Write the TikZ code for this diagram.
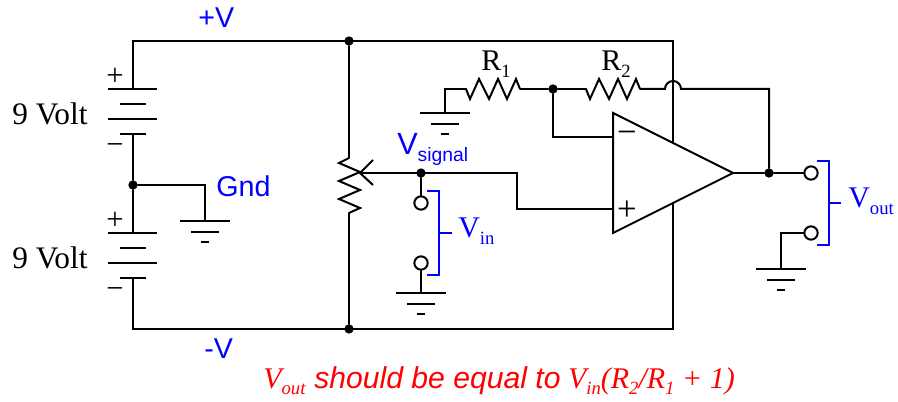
\documentclass[tikz,border=0pt]{standalone}
\usepackage{fontspec}
\setmainfont{Liberation Serif}
\setsansfont{Liberation Sans}
\definecolor{lblblue}{RGB}{0,0,255}
\definecolor{lblred}{RGB}{255,0,0}
\newcommand{\rsub}[1]{\raisebox{-.22em}{\fontsize{14pt}{14pt}\selectfont #1}}
\tikzset{
  x=0.75pt,y=-0.75pt,
  wire/.style={line width=1.5pt,line cap=round,line join=miter,black},
  brk/.style={line width=1.5pt,lblblue,line join=miter},
  dotn/.style={circle,fill=black,inner sep=0pt,minimum size=7pt},
  term/.style={circle,draw=black,fill=white,line width=1.5pt,inner sep=0pt,minimum size=10pt},
  serif/.style={anchor=base west,inner sep=0pt,font=\fontsize{23.5pt}{23.5pt}\selectfont},
  sans/.style={anchor=base west,inner sep=0pt,font=\sffamily\fontsize{21.5pt}{21.5pt}\selectfont,lblblue},
  sign/.style={anchor=center,inner sep=0pt,font=\fontsize{23pt}{23pt}\selectfont},
  bigsign/.style={anchor=center,inner sep=0pt,font=\fontsize{26pt}{26pt}\selectfont},
}
\begin{document}
\begin{tikzpicture}
\useasboundingbox (0,0) rectangle (898,402);
% named points
\coordinate (tl) at (133,41); \coordinate (bl) at (133,329);
\coordinate (tr) at (673,41); \coordinate (br) at (673,329);
\coordinate (g1) at (205,185); \coordinate (g1p) at (205,221);
\coordinate (g2) at (421,293); \coordinate (g3t) at (445,89); \coordinate (g3p) at (445,113);
\coordinate (g4) at (781,233); \coordinate (g4p) at (781,269);
\coordinate (w1) at (517,173); \coordinate (w2) at (517,209);
\coordinate (ninv) at (613,137); \coordinate (pinv) at (613,209);
\coordinate (fb1) at (553,137); \coordinate (fb2) at (769,89);
\coordinate (oa1) at (613,113); \coordinate (oa2) at (613,233); \coordinate (oa3) at (733,173);
\coordinate (hopL) at (665,89); \coordinate (hopR) at (681,89);
\coordinate (pt) at (349,158); \coordinate (pb) at (349,213); \coordinate (ptip) at (360,173);
\coordinate (xu) at (673,143); \coordinate (xd) at (673,203);
\coordinate (b1t) at (133,89); \coordinate (b1b) at (133,134);
\coordinate (b2t) at (133,233); \coordinate (b2b) at (133,278);
\coordinate (r1a) at (466,89); \coordinate (r1b) at (520,89);
\coordinate (r2a) at (586,89); \coordinate (r2b) at (640,89);
% junctions and terminals
\node[dotn] (jmid) at (133,185) {};
\node[dotn] (jtop) at (349,41) {};
\node[dotn] (jbot) at (349,329) {};
\node[dotn] (jsig) at (421,173) {};
\node[dotn] (jr) at (553,89) {};
\node[dotn] (jout) at (769,173) {};
% wires
\draw[wire] (b1t) -- (tl) -- (tr) -- (xu);
\draw[wire] (xd) -- (br) -- (bl) -- (b2b);
\draw[wire] (b1b) -- (jmid) -- (b2t);
\draw[wire] (jmid) -- (g1) -- (g1p);
\draw[wire] (jtop) -- (pt);
\draw[wire] (pb) -- (jbot);
\draw[wire] (ptip) -- (w1) -- (w2) -- (pinv);
\draw[wire] (jr) -- (fb1) -- (ninv);
\draw[wire] (r1b) -- (jr) -- (r2a);
\draw[wire] (g3p) -- (g3t) -- (r1a);
\draw[wire] (r2b) -- (hopL) arc[start angle=180,end angle=360,radius=8] -- (fb2) -- (jout);
\draw[wire] (oa3) -- (jout);
% batteries
\foreach \y in {89,119,233,263} \draw[wire,line cap=butt] (108,\y) -- (157,\y);
\foreach \y in {104,134,248,278} \draw[wire,line cap=butt] (120,\y) -- (146,\y);
% grounds
\foreach \x/\y in {205/221,421/293,445/113,781/269}{
  \draw[wire,line cap=butt] (\x-25,\y) -- (\x+25,\y);
  \draw[wire,line cap=butt] (\x-14,\y+11) -- (\x+14,\y+11);
  \draw[wire,line cap=butt] (\x-4,\y+21) -- (\x+4,\y+21);
}
% resistors
\draw[wire,line cap=butt] (pt) -- (339,163) -- (360,172) -- (339,181) -- (360,190) -- (339,199) -- (360,208) -- (pb);
\draw[wire,line cap=butt] (r1a) -- (470,99) -- (479,79) -- (489,99) -- (498,79) -- (507,99) -- (516,79) -- (r1b);
\draw[wire,line cap=butt] (r2a) -- (590,99) -- (599,79) -- (609,99) -- (618,79) -- (627,99) -- (636,79) -- (r2b);
% wiper head
\draw[wire,line cap=butt] (373,160) -- (ptip) -- (373,185);
% op-amp
\draw[wire,line join=miter,fill=none] (oa1) -- (oa2) -- (oa3) -- cycle;
\node[bigsign] (minus) at (627,137) {−};
\node[bigsign] (plus) at (627,211) {+};
% terminals
\node[term] (t1) at (421,203) {};
\node[term] (t2) at (421,263) {};
\node[term] (t3) at (811,173) {};
\node[term] (t4) at (811,233) {};
\draw[wire] (jsig) -- (t1);
\draw[wire] (t2) -- (g2);
\draw[wire] (jout) -- (t3);
\draw[wire] (t4) -- (g4) -- (g4p);
% brackets
\coordinate (b1a) at (427,191); \coordinate (b1c) at (439,191); \coordinate (b1d) at (439,275); \coordinate (b1e) at (427,275);
\coordinate (b1m) at (439,233); \coordinate (b1n) at (452,233);
\draw[brk] (b1a) -- (b1c) -- (b1d) -- (b1e);
\draw[brk] (b1m) -- (b1n);
\coordinate (b2a) at (817,161); \coordinate (b2c) at (829,161); \coordinate (b2d) at (829,245); \coordinate (b2e) at (817,245);
\coordinate (b2m) at (829,203); \coordinate (b2n) at (841,203);
\draw[brk] (b2a) -- (b2c) -- (b2d) -- (b2e);
\draw[brk] (b2m) -- (b2n);
% labels
\node[sans] (lp) at (198,28) {+V};
\node[sans] (lm) at (204,358) {-V};
\node[sans] (lg) at (216,197) {Gnd};
\node[sans,font=\sffamily\fontsize{23pt}{23pt}\selectfont] (ls) at (397,155) {V\raisebox{-.2em}{\fontsize{14.5pt}{14.5pt}\selectfont signal}};
\node[serif] (v1) at (12,125) {9 Volt};
\node[serif] (v2) at (12,269) {9 Volt};
\node[sign] (p1) at (115,77) {+};
\node[sign] (m1) at (115,149) {−};
\node[sign] (p2) at (115,221) {+};
\node[sign] (m2) at (115,293) {−};
\node[serif,font=\fontsize{22.5pt}{22.5pt}\selectfont] (r1) at (481,71) {R\rsub{1}};
\node[serif,font=\fontsize{22.5pt}{22.5pt}\selectfont] (r2) at (601,71) {R\rsub{2}};
\node[serif,lblblue,font=\fontsize{22.5pt}{22.5pt}\selectfont] (vi) at (458,238) {V\rsub{in}};
\node[serif,lblblue,font=\fontsize{22.5pt}{22.5pt}\selectfont] (vo) at (848,208) {V\rsub{out}};
\node[serif,lblred,font=\fontsize{22.5pt}{22.5pt}\selectfont\itshape] (eq) at (263,388)
  {V\rsub{out}\hspace{1pt} {\sffamily\fontsize{22.6pt}{22.6pt}\selectfont should be equal to} V\rsub{in}(R\rsub{2}/R\rsub{1} + 1)};
\end{tikzpicture}
\end{document}
